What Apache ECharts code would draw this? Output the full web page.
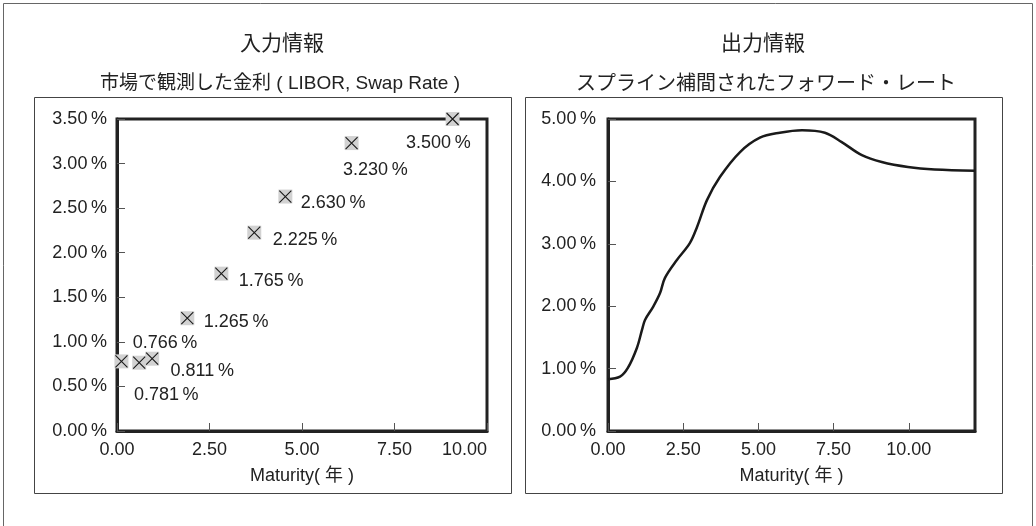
<!DOCTYPE html>
<html>
<head>
<meta charset="utf-8">
<script src="https://cdn.jsdelivr.net/npm/echarts@6/dist/echarts.min.js"></script>
<style>
  html, body { margin: 0; padding: 0; background: #fff; }
  #chart { width: 1036px; height: 526px; }
</style>
</head>
<body>
<div id="chart"></div>
<script>
(function () {
  'use strict';

  // ── Data ──

  // left: observed market rates (LIBOR, swap), maturity in years / rate in %
  var MKT_T = [0.12, 0.6, 0.95, 1.9, 2.82, 3.71, 4.55, 6.34, 9.07];
  var MKT_RATE = [0.781, 0.766, 0.811, 1.265, 1.765, 2.225, 2.630, 3.230, 3.500];

  // right: spline-interpolated forward curve
  var FWD_T = [0, 0.4, 0.66, 0.96, 1.13, 1.23, 1.5, 1.73, 1.89, 2.29, 2.72, 2.96, 3.29,
    3.72, 4.39, 5.05, 5.71, 6.45, 7.21, 7.77, 8.44, 9.1, 9.97, 10.86, 12.2];
  var FWD_RATE = [0.83, 0.87, 1.01, 1.33, 1.62, 1.78, 1.99, 2.21, 2.45, 2.74, 3.01, 3.27, 3.7,
    4.07, 4.47, 4.7, 4.78, 4.82, 4.78, 4.63, 4.42, 4.31, 4.23, 4.19, 4.17];

  // label shifts (px from marker centre to label's left/middle)
  var LABEL_SHIFT = [[12, 33], [-7, -20], [18, 12], [16, 3], [17, 7], [18, 7], [15, 6], [-9, 27], [-47, 24]];

  // ── Style ──

  var FONT = '"Liberation Sans", "Noto Sans CJK JP", sans-serif';
  var INK = '#222';
  var MARK = 14;

  function pct(v) { return v.toFixed(2) + '\u2009%'; }
  function yrs(v) { return v.toFixed(2); }

  function xAxis(idx, max, alignMax) {
    var lab = { color: INK, fontSize: 18, fontFamily: FONT, margin: 10, formatter: yrs };
    if (alignMax) lab.alignMaxLabel = 'right';
    else lab.showMaxLabel = false;
    return {
      gridIndex: idx, type: 'value', min: 0, max: max, interval: 2.5,
      name: 'Maturity( 年 )', nameLocation: 'middle', nameGap: 36,
      nameTextStyle: { color: INK, fontSize: 18, fontFamily: FONT },
      axisLine: { lineStyle: { color: INK, width: 3 } },
      axisTick: { inside: true, length: 8, lineStyle: { color: '#555', width: 1 } },
      axisLabel: lab,
      splitLine: { show: false },
    };
  }

  function yAxis(idx, max, step, margin) {
    return {
      gridIndex: idx, type: 'value', min: 0, max: max, interval: step,
      axisLine: { show: true, lineStyle: { color: INK, width: 3 } },
      axisTick: { show: true, inside: true, length: 8, lineStyle: { color: '#555', width: 1 } },
      axisLabel: { color: INK, fontSize: 18, fontFamily: FONT, margin: margin, formatter: pct },
      splitLine: { show: false },
    };
  }

  var points = MKT_T.map(function (t, i) { return [t, MKT_RATE[i]]; });
  var labelled = points.map(function (p, i) {
    var s = LABEL_SHIFT[i];
    return {
      value: p,
      label: { position: [MARK / 2 + s[0], MARK / 2 + s[1]] },
    };
  });
  var curve = FWD_T.map(function (t, i) { return [t, FWD_RATE[i]]; });

  var chart = echarts.init(document.getElementById('chart'), null, { renderer: 'canvas' });
  chart.setOption({
    backgroundColor: '#fff',
    animation: false,
    title: [
      { text: '入力情報', left: 277, top: 29, textAlign: 'center',
        textStyle: { color: INK, fontSize: 21, fontWeight: 'normal', fontFamily: FONT } },
      { text: '市場で観測した金利 ( LIBOR, Swap Rate )', left: 275, top: 69, textAlign: 'center',
        textStyle: { color: INK, fontSize: 19, fontWeight: 'normal', fontFamily: FONT } },
      { text: '出力情報', left: 758, top: 29, textAlign: 'center',
        textStyle: { color: INK, fontSize: 21, fontWeight: 'normal', fontFamily: FONT } },
      { text: 'スプライン補間されたフォワード・レート', left: 761, top: 69, textAlign: 'center',
        textStyle: { color: INK, fontSize: 20, fontWeight: 'normal', fontFamily: FONT } },
    ],
    graphic: [
      { type: 'rect', shape: { x: 3.5, y: 3.5, width: 1029, height: 600 },
        style: { fill: 'none', stroke: '#666', lineWidth: 1 }, silent: true },
      { type: 'rect', shape: { x: 34.5, y: 97.5, width: 477, height: 396 },
        style: { fill: 'none', stroke: '#444', lineWidth: 1 }, silent: true },
      { type: 'rect', shape: { x: 525.5, y: 97.5, width: 477, height: 396 },
        style: { fill: 'none', stroke: '#444', lineWidth: 1 }, silent: true },
    ],
    grid: [
      { left: 117, top: 119, width: 370, height: 312, show: true, borderColor: INK, borderWidth: 3 },
      { left: 608, top: 119, width: 367, height: 312, show: true, borderColor: INK, borderWidth: 3 },
    ],
    xAxis: [xAxis(0, 10, true), xAxis(1, 12.2, false)],
    yAxis: [yAxis(0, 3.5, 0.5, 10), yAxis(1, 5, 1, 12)],
    series: [
      {
        name: 'market', type: 'scatter', xAxisIndex: 0, yAxisIndex: 0,
        data: points, symbol: 'rect', symbolSize: MARK,
        itemStyle: { color: '#d2d2d2', opacity: 1 },
        z: 3,
      },
      {
        name: 'market-x', type: 'scatter', xAxisIndex: 0, yAxisIndex: 0,
        data: labelled, symbol: 'path://M0,0L10,10M10,0L0,10', symbolSize: MARK - 2,
        itemStyle: { color: 'transparent', borderColor: '#1a1a1a', borderWidth: 1.1, opacity: 1 },
        label: {
          show: true, align: 'left', verticalAlign: 'middle',
          color: INK, fontSize: 18, fontFamily: FONT,
          formatter: function (p) { return p.value[1].toFixed(3) + '\u2009%'; },
        },
        z: 4,
      },
      {
        name: 'forward', type: 'line', xAxisIndex: 1, yAxisIndex: 1,
        data: curve, smooth: 0.35, showSymbol: false,
        lineStyle: { color: '#1a1a1a', width: 2.5 },
      },
    ],
  });
})();
</script>
</body>
</html>
